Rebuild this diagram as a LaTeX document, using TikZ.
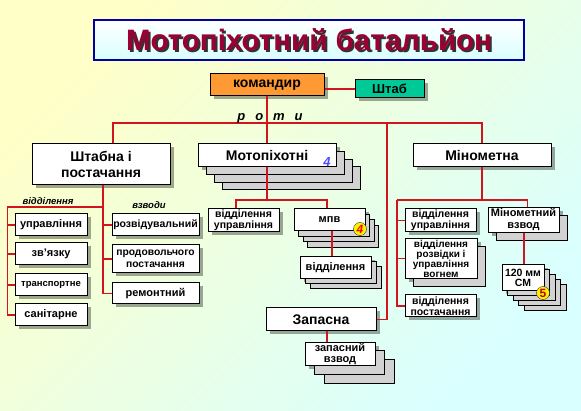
\documentclass[tikz,border=0pt]{standalone}
\usepackage{fontspec}
\setmainfont{Liberation Sans}
\usepackage{xcolor}
\usetikzlibrary{shadows, positioning}
\definecolor{linkred}{RGB}{210,20,30}
\definecolor{titlered}{RGB}{155,0,50}
\definecolor{cmdorange}{RGB}{255,153,51}
\definecolor{shtabgreen}{RGB}{0,200,150}
\tikzset{
  unit/.style={rectangle, draw=black, line width=1pt, fill=white,
               inner sep=1pt, align=center,
               drop shadow={shadow xshift=3.5pt, shadow yshift=-3.5pt,
                            fill=black, opacity=0.35}},
  bigunit/.style={unit, font=\fontsize{14}{16.5}\selectfont\bfseries},
  smallunit/.style={unit, font=\fontsize{10.5}{11}\selectfont\bfseries},
  sheet/.style 2 args={copy shadow={shadow xshift=#1, shadow yshift=-#2,
                       fill=gray!35, draw=black, line width=0.7pt}},
  link/.style={draw=linkred, line width=1.8pt},
  tag/.style={font=\fontsize{9.5}{10}\selectfont\bfseries\itshape},
  badge/.style={circle, draw=black!80, fill=yellow, inner sep=0pt,
                minimum size=13pt, font=\fontsize{12}{12}\selectfont\bfseries,
                text=red!75!black},
}

\begin{document}
\begin{tikzpicture}[x=1pt, y=-1pt]
  \shade[top color=yellow!22, bottom color=cyan!15, shading angle=45]
    (0,0) rectangle (581,411);
  \useasboundingbox (0,0) rectangle (581,411);

  % title
  \node[draw=blue!65!black, line width=1.8pt, top color=white,
        bottom color=cyan!15, minimum width=430pt, minimum height=40pt]
    (title) at (309,40) {};
  \node[font=\fontsize{29.5}{31}\selectfont\bfseries, text=black!80]
    (titleshade) at ([xshift=2pt, yshift=-2pt]title.center)
    {Мотопіхотний батальйон};
  \node[font=\fontsize{29.5}{31}\selectfont\bfseries, text=titlered]
    (titletext) at (title.center) {Мотопіхотний батальйон};

  \node[unit, fill=cmdorange, minimum width=114pt, minimum height=22pt,
        font=\fontsize{14}{16}\selectfont\bfseries] (cmd) at (267,85) {командир};
  \node[unit, fill=shtabgreen, minimum width=69pt, minimum height=18pt,
        font=\fontsize{13}{15}\selectfont\bfseries] (shtab) at (389.5,89) {Штаб};

  % companies
  \node[bigunit, minimum width=138pt, minimum height=41pt] (shp)
    at (101,164.5) {Штабна і\\постачання};
  \node[bigunit, minimum width=138pt, minimum height=23pt,
        sheet={24pt}{22.5pt}, sheet={16pt}{15pt}, sheet={8pt}{7.5pt}] (mot)
    at (267,155.5) {Мотопіхотні};
  \node[font=\fontsize{13}{13}\selectfont\bfseries\itshape, text=blue!70]
    (motnum) at (327,162) {4};
  \node[bigunit, minimum width=138pt, minimum height=23pt] (min)
    at (482,155.5) {Мінометна};
  \node[bigunit, minimum width=110pt, minimum height=23pt] (zap)
    at (321,319.5) {Запасна};

  % HQ and supply: sections and platoons
  \node[smallunit, font=\fontsize{11}{12}\selectfont\bfseries,
        minimum width=72pt, minimum height=22pt] (upr) at (51,225) {управління};
  \node[smallunit, font=\fontsize{11}{12}\selectfont\bfseries,
        minimum width=72pt, minimum height=22pt] (zvz) at (51,254) {зв'язку};
  \node[smallunit, font=\fontsize{9.5}{10}\selectfont\bfseries,
        minimum width=72pt, minimum height=22pt] (trn) at (51,285) {транспортне};
  \node[smallunit, font=\fontsize{11}{12}\selectfont\bfseries,
        minimum width=72pt, minimum height=22pt] (san) at (51,315) {санітарне};

  \node[smallunit, minimum width=87pt, minimum height=22pt] (rozv)
    at (155.5,225) {розвідувальний};
  \node[smallunit, font=\fontsize{10.3}{12}\selectfont\bfseries,
        minimum width=87pt, minimum height=28pt] (prod)
    at (155.5,259) {продовольчого\\постачання};
  \node[smallunit, font=\fontsize{11}{12}\selectfont\bfseries,
        minimum width=87pt, minimum height=21pt] (rem)
    at (155.5,293.5) {ремонтний};

  \node[tag] (otdlabel) at (48,201) {відділення};
  \node[tag] (vzlabel) at (149,205) {взводи};

  % motor rifle company
  \node[smallunit, minimum width=71pt, minimum height=22pt] (vu)
    at (243.5,220) {відділення\\управління};
  \node[smallunit, font=\fontsize{11}{12}\selectfont\bfseries,
        minimum width=71pt, minimum height=22pt,
        sheet={13.5pt}{16pt}, sheet={9pt}{10.6pt}, sheet={4.5pt}{5.3pt}] (mpv)
    at (329.5,220) {мпв};
  \node[badge, text=red, font=\fontsize{12}{12}\selectfont\bfseries\itshape]
    (mpvnum) at (360,229) {4};
  \node[smallunit, font=\fontsize{11}{12}\selectfont\bfseries,
        minimum width=71pt, minimum height=22pt,
        sheet={10pt}{9pt}, sheet={5pt}{4.5pt}] (vid)
    at (335.5,268) {відділення};

  % mortar company
  \node[smallunit, minimum width=71pt, minimum height=23pt] (mu)
    at (440.5,220.5) {відділення\\управління};
  \node[smallunit, font=\fontsize{10}{10}\selectfont\bfseries,
        minimum width=72pt, minimum height=39pt, sheet={8pt}{8pt}] (mr)
    at (441,258.5) {відділення\\розвідки і\\управління\\вогнем};
  \node[smallunit, minimum width=71pt, minimum height=22pt] (mp)
    at (440.5,306) {відділення\\постачання};
  \node[smallunit, font=\fontsize{11}{12}\selectfont\bfseries,
        minimum width=71pt, minimum height=22pt, sheet={8pt}{8pt}] (mv)
    at (523.5,220) {Мінометний\\взвод};
  \node[smallunit, font=\fontsize{10.5}{10.5}\selectfont\bfseries,
        minimum width=42pt, minimum height=26pt,
        sheet={22pt}{19pt}, sheet={16.5pt}{14.25pt},
        sheet={11pt}{9.5pt}, sheet={5.5pt}{4.75pt}] (sm)
    at (523,278) {120 мм\\СМ};
  \node[badge] (smnum) at (543,293) {5};

  % reserve company
  \node[smallunit, font=\fontsize{11}{11.5}\selectfont\bfseries,
        minimum width=70pt, minimum height=22pt,
        sheet={19pt}{17pt}, sheet={9.5pt}{8.5pt}] (zvv)
    at (340,354) {запасний\\взвод};

  % links
  \coordinate (busL) at (113,123);
  \coordinate (busZ) at (387,123);
  \draw[link] (shtab.west) -- (shtab.west -| cmd.east);
  \draw[link] (cmd.south) -- (mot.north);
  \draw[link] (busL |- shp.north) -- (busL) -- (busL -| min.north) -- (min.north);
  \draw[link] (busZ) |- (zap.east);
  \node[font=\fontsize{13}{13}\selectfont\bfseries\itshape, anchor=base]
    (rotylabel) at (270,121) {р\hspace{10pt}о\hspace{10pt}т\hspace{10pt}и};

  \coordinate (shpJ) at (103,207);
  \coordinate (otdJ) at (7.5,207);
  \draw[link] (shpJ |- shp.south) -- (shpJ |- rem.west) -- (rem.west);
  \draw[link] (shpJ) -- (otdJ) |- (san.west);
  \draw[link] (otdJ |- upr.west) -- (upr.west);
  \draw[link] (otdJ |- zvz.west) -- (zvz.west);
  \draw[link] (otdJ |- trn.west) -- (trn.west);
  \draw[link] (shpJ |- rozv.west) -- (rozv.west);
  \draw[link] (shpJ |- prod.west) -- (prod.west);

  \coordinate (motJ) at (267,200);
  \draw[link] (mot.south) -- (motJ);
  \draw[link] ([xshift=-7.5pt]vu.north) |- (motJ) -| ([xshift=-2.5pt]mpv.north);
  \draw[link] ([xshift=2.5pt]mpv.south) -- ([xshift=-3.5pt]vid.north);

  \coordinate (minJ) at (482,200);
  \coordinate (minL) at (397,200);
  \draw[link] (min.south) -- (minJ);
  \draw[link] (minL) -| ([xshift=4pt]mv.north);
  \draw[link] (minL) |- (mp.west);
  \draw[link] (minL |- mu.west) -- (mu.west);
  \draw[link] (minL |- mr.west) -- (mr.west);
  \draw[link] ([xshift=0.5pt]mv.south) -- ([xshift=1pt]sm.north);
  \draw[link] ([xshift=6pt]zap.south) -- ([xshift=-13pt]zvv.north);
\end{tikzpicture}
\end{document}
